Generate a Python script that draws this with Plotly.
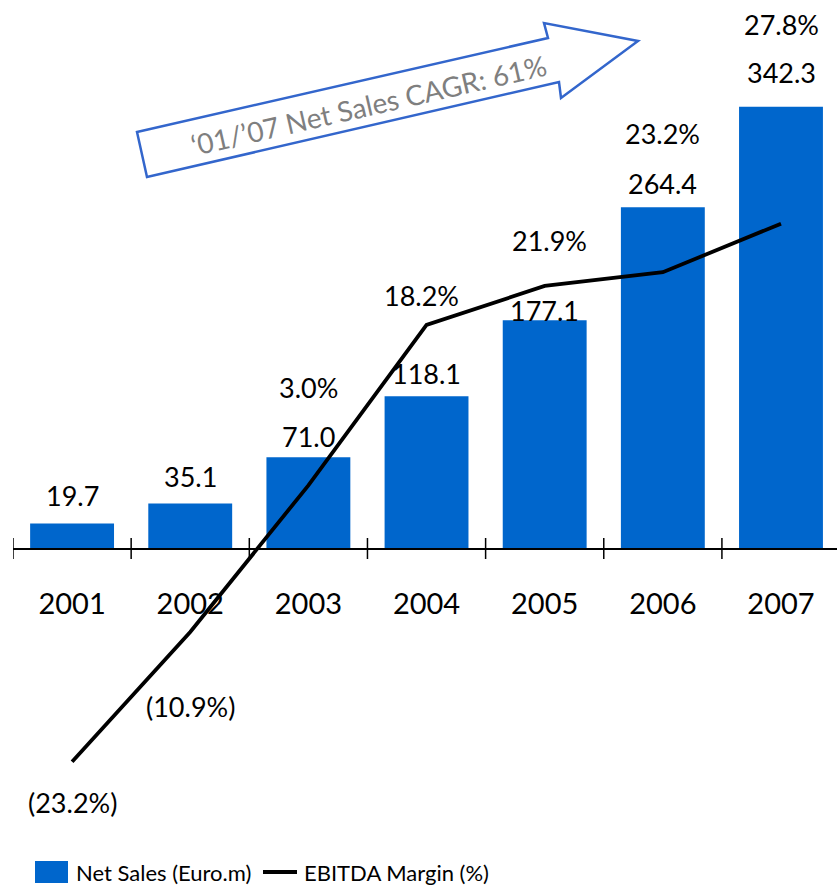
import plotly.graph_objects as go

# Data
years = ["2001", "2002", "2003", "2004", "2005", "2006", "2007"]
net_sales = [19.7, 35.1, 71.0, 118.1, 177.1, 264.4, 342.3]
ebitda_margin = [-23.2, -10.9, 3.0, 18.2, 21.9, 23.2, 27.8]

# Per-label offsets (pixels) for the value labels
sales_label_shift = [28, 27, 21, 23, 10, 24, 34]
margin_label_shift = [-41, -75, 98, 29, 45, 139, 199]
margin_label_xshift = [0, 0, 0, -5, 5, 0, 0]

W, H = 837, 889
ML = 13
PW = W - ML

FONT = "Lato"
BAR_COLOR = "#0066CC"


def px(x):
    return (x - ML) / PW


def py(y):
    return 1 - y / H


def fmt_pct(v):
    return f"({abs(v):.1f}%)" if v < 0 else f"{v:.1f}%"


fig = go.Figure()
fig.add_trace(go.Bar(
    x=years, y=net_sales, name="Net Sales (Euro.m)",
    marker=dict(color=BAR_COLOR, line=dict(width=0)),
    width=0.71, yaxis="y", showlegend=False,
))
fig.add_trace(go.Scatter(
    x=years, y=ebitda_margin, name="EBITDA Margin (%)",
    mode="lines", line=dict(color="black", width=3.8),
    yaxis="y2", showlegend=False,
))

annotations = []
# category positions are addressed by index on the category axis
for i, (v, s) in enumerate(zip(net_sales, sales_label_shift)):
    annotations.append(dict(
        x=i, y=v, xref="x", yref="y", text=f"{v:.1f}", showarrow=False,
        yanchor="middle", yshift=s, font=dict(family=FONT, size=27, color="black"),
    ))
for i, (v, s, xs) in enumerate(zip(ebitda_margin, margin_label_shift, margin_label_xshift)):
    annotations.append(dict(
        x=i, y=v, xref="x", yref="y2", text=fmt_pct(v), showarrow=False,
        yanchor="middle", yshift=s, xshift=xs,
        font=dict(family=FONT, size=27, color="black"),
    ))

# CAGR arrow text
annotations.append(dict(
    x=px(368), y=py(105), xref="paper", yref="paper",
    text="‘01/’07 Net Sales CAGR: 61%", showarrow=False, textangle=-12.9,
    xanchor="center", yanchor="middle",
    font=dict(family=FONT, size=28, color="#7F7F7F"),
))

# Legend
annotations.append(dict(
    x=px(74), y=py(872), xref="paper", yref="paper", text="Net Sales (Euro.m)",
    showarrow=False, xanchor="left", yanchor="middle",
    font=dict(family=FONT, size=22, color="black"),
))
annotations.append(dict(
    x=px(302), y=py(872), xref="paper", yref="paper", text="EBITDA Margin (%)",
    showarrow=False, xanchor="left", yanchor="middle",
    font=dict(family=FONT, size=22, color="black"),
))

shapes = []
# Block arrow outline
arrow_pts = [(137, 132), (548, 38), (544, 23), (638, 41), (561, 98), (559, 82), (147, 177)]
path = "M " + " L ".join(f"{px(x):.5f},{py(y):.5f}" for x, y in arrow_pts) + " Z"
shapes.append(dict(type="path", xref="paper", yref="paper", path=path,
                   line=dict(color="#3366CC", width=2.5), fillcolor="rgba(0,0,0,0)"))

# Boundary tick marks crossing the category axis
for i in range(len(years)):
    b = i - 0.5
    shapes.append(dict(type="line", xref="x", yref="paper", x0=b, x1=b,
                       y0=py(538), y1=py(559), line=dict(color="black", width=1.5)))

# Legend swatches
shapes.append(dict(type="rect", xref="paper", yref="paper",
                   x0=px(35), x1=px(68), y0=py(883), y1=py(861),
                   fillcolor=BAR_COLOR, line=dict(width=0)))
shapes.append(dict(type="line", xref="paper", yref="paper",
                   x0=px(263), x1=px(297), y0=py(872), y1=py(872),
                   line=dict(color="black", width=3.8)))

fig.update_layout(
    width=W, height=H,
    margin=dict(l=ML, r=0, t=0, b=0),
    paper_bgcolor="white", plot_bgcolor="white",
    showlegend=False,
    xaxis=dict(
        type="category", range=[-0.5, 6.474], anchor="free", position=py(549),
        showline=True, linecolor="black", linewidth=2, ticks="",
        showgrid=False, zeroline=False, ticklabelstandoff=29,
        tickfont=dict(family=FONT, size=29, color="black"),
    ),
    yaxis=dict(range=[-263.2, 424.9], visible=False, showgrid=False, zeroline=False),
    yaxis2=dict(range=[-35.26, 49.0], overlaying="y", visible=False,
                showgrid=False, zeroline=False),
    annotations=annotations,
    shapes=shapes,
)

fig.write_html("out.html")
